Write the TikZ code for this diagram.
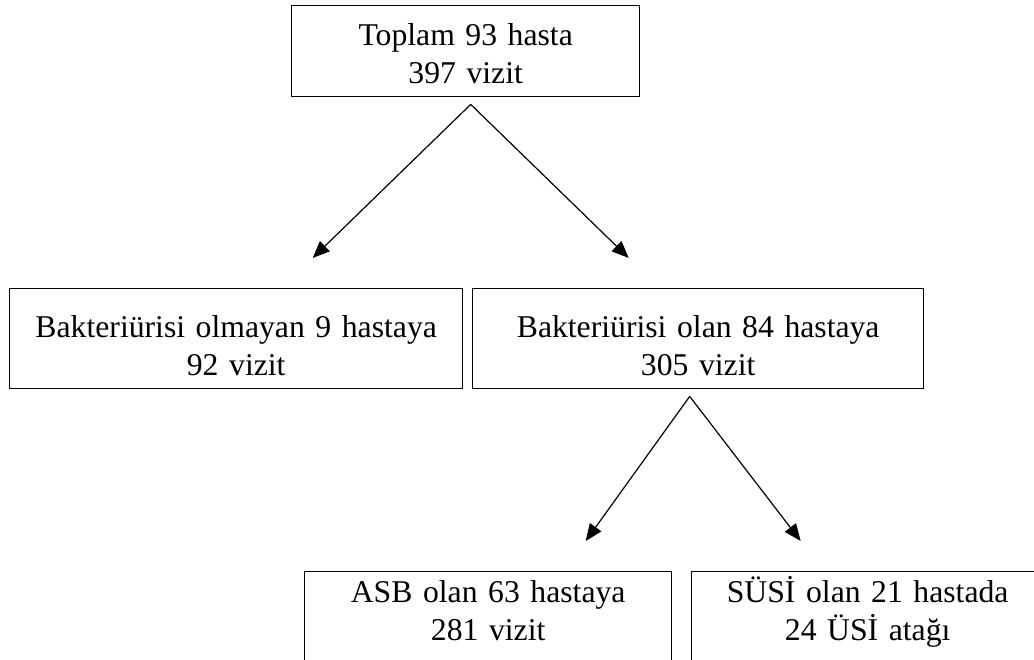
\documentclass[tikz,border=0pt]{standalone}
\usepackage{fontspec}
\setmainfont{Liberation Serif}
\usetikzlibrary{
  arrows.meta,
  positioning,
  calc
}
\tikzset{
  flowbox/.style={draw,line width=1.4pt,rectangle,inner sep=0pt,align=center,
    anchor=north west,font=\fontsize{31.7pt}{37.5pt}\selectfont},
  flowarrow/.style={line width=1.2pt,-{Triangle[length=17pt,width=14pt]}}
}

\begin{document}
\begin{tikzpicture}[x=1pt,y=-1pt]
  \useasboundingbox (0,0) rectangle (1034,660);
  % kutular
  \node[flowbox,text width=348pt,text height=40pt,text depth=51pt] (toplam) at (291,5)
    {Toplam 93 hasta\\397 vizit};
  \node[flowbox,text width=453pt,text height=49pt,text depth=51pt] (negatif) at (9,288)
    {Bakteriürisi olmayan 9 hastaya\\92 vizit};
  \node[flowbox,text width=451pt,text height=49pt,text depth=51pt] (pozitif) at (472,288)
    {Bakteriürisi olan 84 hastaya\\305 vizit};
  \node[flowbox,text width=367pt,text height=31pt,text depth=88pt] (asb) at (304,571)
    {ASB olan 63 hastaya\\281 vizit};
  \node[flowbox,text width=352pt,text height=31pt,text depth=88pt] (susi) at (691,571)
    {SÜSİ olan 21 hastada\\24 ÜSİ atağı};
  % ok uclari
  \coordinate (ustcikis) at ([shift={(5,7)}]toplam.south);
  \coordinate (negatifuc) at ([shift={(76.5,-30)}]negatif.north);
  \coordinate (pozitifuc) at ([shift={(-69.5,-30)}]pozitif.north);
  \coordinate (altcikis) at ([shift={(-8.5,7)}]pozitif.south);
  \coordinate (asbuc) at ([shift={(97.5,-30)}]asb.north);
  \coordinate (susiuc) at ([shift={(-67,-30)}]susi.north);
  % oklar
  \draw[flowarrow] (ustcikis) -- (negatifuc);
  \draw[flowarrow] (ustcikis) -- (pozitifuc);
  \draw[flowarrow] (altcikis) -- (asbuc);
  \draw[flowarrow] (altcikis) -- (susiuc);
\end{tikzpicture}
\end{document}
